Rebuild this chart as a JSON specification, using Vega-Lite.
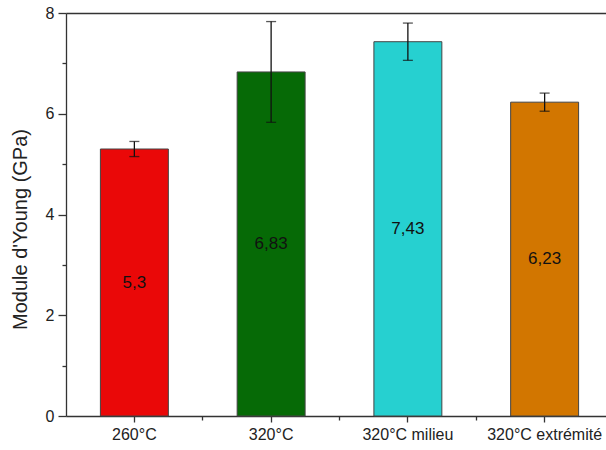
{
  "$schema": "https://vega.github.io/schema/vega-lite/v6.json",
  "width": 540,
  "height": 403,
  "autosize": {"type": "none"},
  "padding": {"left": 66, "top": 13, "right": 0, "bottom": 34},
  "config": {
    "view": {"stroke": null},
    "font": "Liberation Sans",
    "locale": {"number": {"decimal": ",", "thousands": ".", "grouping": [3], "currency": ["", " €"]}},
    "axis": {"domainColor": "#333", "tickColor": "#333", "labelColor": "#222", "titleColor": "#222", "grid": false, "domainWidth": 1.3, "tickWidth": 1.3}
  },
  "data": {
    "values": [
      {"cat": "260°C", "value": 5.3, "err": 0.15},
      {"cat": "320°C", "value": 6.83, "err": 1.0},
      {"cat": "320°C milieu", "value": 7.43, "err": 0.37},
      {"cat": "320°C extrémité", "value": 6.23, "err": 0.18}
    ]
  },
  "layer": [
    {
      "mark": {"type": "bar", "stroke": "#444", "strokeWidth": 1},
      "encoding": {
        "x": {"field": "cat", "type": "nominal", "sort": null,
          "scale": {"range": [0, 547], "paddingInner": 0.503, "paddingOuter": 0.2515},
          "axis": {"orient": "bottom", "title": null, "labelAngle": 0, "labelFontSize": 16, "tickSize": 6, "labelPadding": 4}},
        "y": {"field": "value", "type": "quantitative",
          "scale": {"domain": [0, 8], "nice": false, "zero": true},
          "axis": {"orient": "left", "values": [0, 2, 4, 6, 8], "format": "d", "tickSize": 8, "labelPadding": 4, "labelFontSize": 16,
            "title": "Module d'Young (GPa)", "titleFontSize": 20, "titleFontWeight": "normal", "titleX": -36, "titleY": 216}},
        "color": {"field": "cat", "type": "nominal", "sort": null, "legend": null,
          "scale": {"range": ["#EA0808", "#066A06", "#26D0D0", "#D27600"]}}
      }
    },
    {
      "mark": {"type": "errorbar", "ticks": {"size": 10}, "color": "#111", "thickness": 1.3},
      "encoding": {
        "x": {"field": "cat", "type": "nominal", "sort": null,
          "axis": {"orient": "bottom", "title": null, "labels": false, "domain": false, "tickSize": 4, "bandPosition": 1.505}},
        "y": {"field": "value", "type": "quantitative",
          "axis": {"orient": "left", "values": [1, 3, 5, 7], "labels": false, "domain": false, "tickSize": 4, "title": null}},
        "yError": {"field": "err"}
      }
    },
    {
      "transform": [{"calculate": "datum.value / 2", "as": "mid"}],
      "mark": {"type": "text", "fontSize": 17, "color": "#111"},
      "encoding": {
        "x": {"field": "cat", "type": "nominal", "sort": null,
          "axis": {"orient": "top", "title": null, "labels": false, "ticks": false, "domain": true}},
        "y": {"field": "mid", "type": "quantitative", "axis": null},
        "text": {"field": "value", "type": "quantitative", "format": ".2~f"}
      }
    }
  ],
  "resolve": {"axis": {"x": "independent", "y": "independent"}}
}
